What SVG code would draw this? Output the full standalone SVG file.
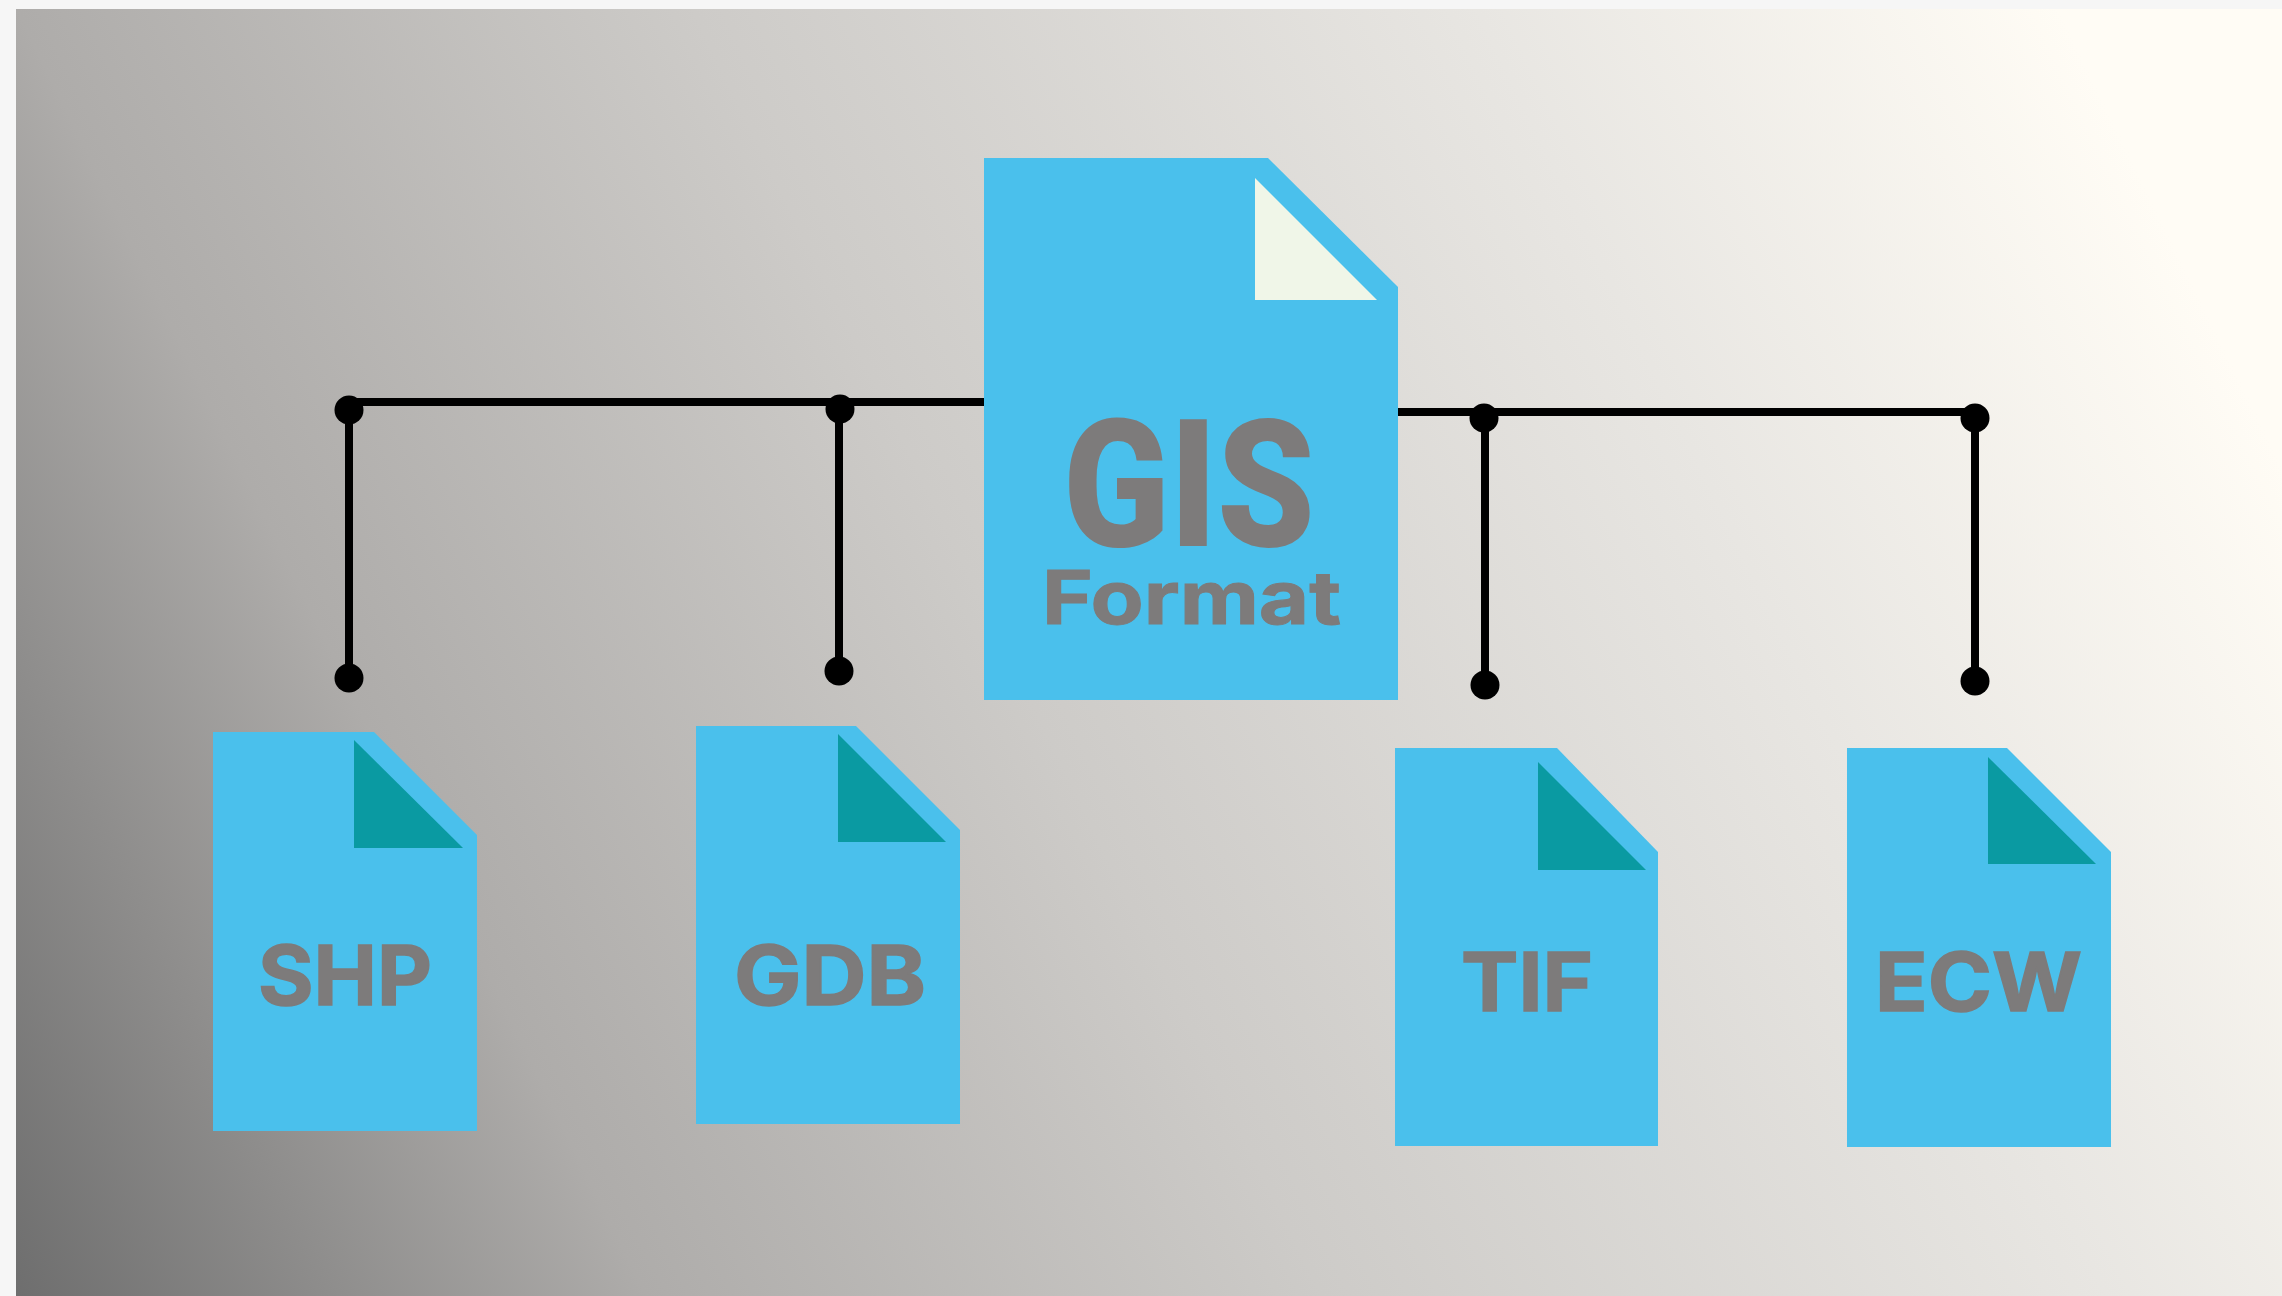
<svg xmlns="http://www.w3.org/2000/svg" width="2282" height="1296" viewBox="0 0 2282 1296">
<style>
.doc{fill:#4ac0ec}
.fold{fill:#0a9aa2}
.lbl{font-family:"Inter","Liberation Sans",sans-serif;font-weight:700;fill:#7d7b7b;stroke:#7d7b7b;stroke-width:1.5;text-anchor:start}
.wire{stroke:#000;stroke-width:8;fill:none}
.dot{fill:#000}
</style>
<defs>
<linearGradient id="bg" gradientUnits="userSpaceOnUse" x1="16" y1="1296" x2="2360" y2="150">
<stop offset="0" stop-color="#6e6e6e"/>
<stop offset="0.217" stop-color="#aeacaa"/>
<stop offset="0.45" stop-color="#cdcbc8"/>
<stop offset="0.72" stop-color="#e8e6e2"/>
<stop offset="0.92" stop-color="#fffcf5"/>
</linearGradient>
</defs>
<rect width="2282" height="1296" fill="#f6f6f6"/>
<rect x="16" y="9" width="2266" height="1287" fill="url(#bg)"/>
<g id="connectors">
<path class="wire" d="M349 402H985M349 410V678M839 402V671"/>
<path class="wire" d="M1398 412H1975M1485 418V685M1975 418V681"/>
<circle class="dot" cx="349" cy="410" r="14.5"/>
<circle class="dot" cx="840" cy="409" r="14.5"/>
<circle class="dot" cx="1484" cy="418" r="14.5"/>
<circle class="dot" cx="1975" cy="418" r="14.5"/>
<circle class="dot" cx="349" cy="678" r="14.5"/>
<circle class="dot" cx="839" cy="671" r="14.5"/>
<circle class="dot" cx="1485" cy="685" r="14.5"/>
<circle class="dot" cx="1975" cy="681" r="14.5"/>
</g>
<g id="node-gis">
<polygon class="doc" points="984,158 1268,158 1398,287 1398,700 984,700"/>
<polygon points="1255,178 1377,300 1255,300" fill="#f0f6e8"/>
<text class="lbl" x="1063" y="546" font-size="178" textLength="252" lengthAdjust="spacingAndGlyphs" style="font-family:Roboto,sans-serif;font-weight:900;stroke-width:0">GIS</text>
<text class="lbl" x="1042" y="624" font-size="74" textLength="299" lengthAdjust="spacingAndGlyphs" style="stroke-width:1">Format</text>
</g>
<g id="node-shp">
<polygon class="doc" points="213,732 374,732 477,835 477,1131 213,1131"/>
<polygon class="fold" points="354,740 463,848 354,848"/>
<text class="lbl" x="258" y="1005" font-size="82" textLength="174" lengthAdjust="spacingAndGlyphs">SHP</text>
</g>
<g id="node-gdb">
<polygon class="doc" points="696,726 856,726 960,830 960,1124 696,1124"/>
<polygon class="fold" points="838,734 946,842 838,842"/>
<text class="lbl" x="734" y="1005" font-size="82" textLength="192" lengthAdjust="spacingAndGlyphs">GDB</text>
</g>
<g id="node-tif">
<polygon class="doc" points="1395,748 1557,748 1658,852 1658,1146 1395,1146"/>
<polygon class="fold" points="1538,762 1646,870 1538,870"/>
<text class="lbl" x="1461" y="1011" font-size="81" textLength="132" lengthAdjust="spacingAndGlyphs">TIF</text>
</g>
<g id="node-ecw">
<polygon class="doc" points="1847,748 2007,748 2111,852 2111,1147 1847,1147"/>
<polygon class="fold" points="1988,757 2096,864 1988,864"/>
<text class="lbl" x="1875" y="1011" font-size="81" textLength="207" lengthAdjust="spacingAndGlyphs">ECW</text>
</g>
</svg>
